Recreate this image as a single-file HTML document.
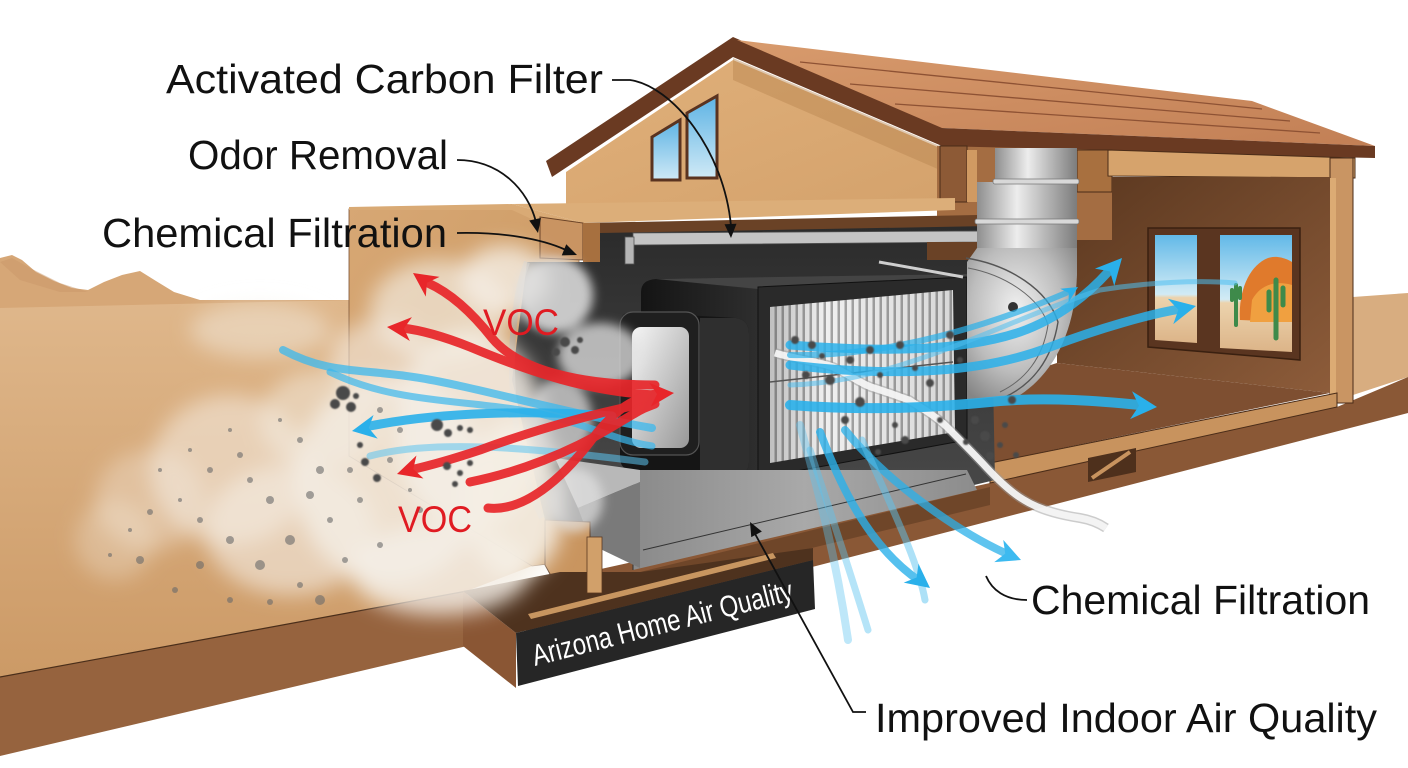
<!DOCTYPE html>
<html><head><meta charset="utf-8"><style>
html,body{margin:0;padding:0;background:#fff;overflow:hidden;}
svg{display:block;}
text{font-family:"Liberation Sans",sans-serif;}
</style></head><body>
<svg width="1408" height="768" viewBox="0 0 1408 768" xmlns="http://www.w3.org/2000/svg">
<defs>
<linearGradient id="ground" x1="0" y1="0" x2="0" y2="1"><stop offset="0" stop-color="#dfb78b"/><stop offset="1" stop-color="#cc9a66"/></linearGradient>
<linearGradient id="wallF" x1="0" y1="0" x2="1" y2="1"><stop offset="0" stop-color="#d7a774"/><stop offset="1" stop-color="#c9975f"/></linearGradient>
<linearGradient id="roof" x1="0" y1="0" x2="1" y2="1"><stop offset="0" stop-color="#d89b6d"/><stop offset="1" stop-color="#c27f55"/></linearGradient>
<linearGradient id="gable" x1="0" y1="0" x2="1" y2="1"><stop offset="0" stop-color="#e0b07a"/><stop offset="1" stop-color="#d4a26c"/></linearGradient>
<linearGradient id="roomwall" x1="0" y1="0" x2="1" y2="1"><stop offset="0" stop-color="#5a371f"/><stop offset="1" stop-color="#8d5c3a"/></linearGradient>
<linearGradient id="sky" x1="0" y1="0" x2="0" y2="1"><stop offset="0" stop-color="#62b9e8"/><stop offset="0.55" stop-color="#d2ebf5"/><stop offset="0.58" stop-color="#ecd3ad"/><stop offset="1" stop-color="#dcb488"/></linearGradient>
<linearGradient id="gsky" x1="0" y1="0" x2="0" y2="1"><stop offset="0" stop-color="#5db3e4"/><stop offset="1" stop-color="#cfe9f6"/></linearGradient>
<linearGradient id="pipeV" x1="0" y1="0" x2="1" y2="0"><stop offset="0" stop-color="#8e8e8e"/><stop offset="0.4" stop-color="#ededed"/><stop offset="0.65" stop-color="#bdbdbd"/><stop offset="1" stop-color="#7c7c7c"/></linearGradient>
<radialGradient id="elbow" cx="0.45" cy="0.4" r="0.7"><stop offset="0" stop-color="#f0f0f0"/><stop offset="0.6" stop-color="#bcbcbc"/><stop offset="1" stop-color="#858585"/></radialGradient>
<linearGradient id="cavity" x1="0" y1="0" x2="0" y2="1"><stop offset="0" stop-color="#2b2b2b"/><stop offset="1" stop-color="#505050"/></linearGradient>
<linearGradient id="hside" x1="0" y1="0" x2="1" y2="0"><stop offset="0" stop-color="#141414"/><stop offset="0.55" stop-color="#3c3c3c"/><stop offset="1" stop-color="#161616"/></linearGradient>
<linearGradient id="collarIn" x1="0" y1="0" x2="1" y2="1"><stop offset="0" stop-color="#f6f6f6"/><stop offset="1" stop-color="#989898"/></linearGradient>
<linearGradient id="base" x1="0" y1="0" x2="1" y2="0"><stop offset="0" stop-color="#8a8a8a"/><stop offset="0.5" stop-color="#a9a9a9"/><stop offset="1" stop-color="#8c8c8c"/></linearGradient>
<linearGradient id="fshade" x1="0" y1="0" x2="1" y2="0"><stop offset="0" stop-color="#000" stop-opacity=".2"/><stop offset=".3" stop-color="#000" stop-opacity="0"/><stop offset="1" stop-color="#000" stop-opacity=".1"/></linearGradient>
<pattern id="pleat" width="7" height="10" patternUnits="userSpaceOnUse"><rect width="7" height="10" fill="#efefef"/><rect x="4.5" width="2.5" height="10" fill="#a2a2a2"/></pattern>
<filter id="b10" x="-50%" y="-50%" width="200%" height="200%"><feGaussianBlur stdDeviation="10"/></filter>
<filter id="b5" x="-50%" y="-50%" width="200%" height="200%"><feGaussianBlur stdDeviation="5"/></filter>
<filter id="b1"><feGaussianBlur stdDeviation="0.8"/></filter>
</defs>

<!-- desert -->
<path d="M0,258 L12,255 L22,260 L36,272 L54,281 L72,288 L88,290 L104,282 L122,275 L140,271 L156,281 L174,292 L200,300 L352,300 L352,340 L0,340Z" fill="#d6a777"/>
<path d="M0,262 L12,258 L30,268 L60,283 L88,292 L60,292 L20,280Z" fill="#c9976a" opacity=".5"/>
<path d="M0,308 L352,300 L352,456 L532,566 L467,591 L0,677Z" fill="url(#ground)"/>
<!-- left slab front -->
<path d="M0,677 L467,591 L467,646 L0,756Z" fill="#96633e"/>
<path d="M0,677 L467,591" stroke="#4a2e1a" stroke-width="1.2"/>

<!-- right ground beyond house -->
<path d="M1353,297 L1408,293 L1408,377 L1353,395Z" fill="#d8ad80"/>
<!-- right slab brown -->
<path d="M560,578 L990,483 L1337,407 L1408,377 L1408,413 L816,566 L520,640Z" fill="#8a5836"/>
<path d="M640,572 L990,487 L990,505 L700,575Z" fill="#5e3a22" opacity=".6"/>

<!-- gable wall -->
<path d="M566,172 L733,60 L940,148 L940,200 L566,206Z" fill="url(#gable)"/>
<path d="M733,58 L940,146 L940,170 L733,80Z" fill="#b9844f" opacity=".45"/>
<!-- gable windows -->
<path d="M652,137 L680,120 L680,180 L652,180Z" fill="url(#gsky)" stroke="#5a3320" stroke-width="3"/>
<path d="M687,113 L717,96 L717,178 L687,178Z" fill="url(#gsky)" stroke="#5a3320" stroke-width="3"/>
<!-- barge -->
<path d="M546,161 L733,37 L942,127 L942,146 L733,57 L552,177Z" fill="#6a3a22"/>
<!-- roof -->
<path d="M737,40 L1252,101 L1375,146 L942,128Z" fill="url(#roof)"/>
<path d="M800,62 L1262,109 M850,84 L1290,121 M895,104 L1320,133" stroke="#8e5234" stroke-width="1.3" fill="none"/>
<path d="M942,128 L1375,146 L1375,158 L942,148Z" fill="#6a3a22"/>

<!-- under-roof structure -->
<path d="M937,146 L1112,150 L1112,250 L937,250Z" fill="#a46d42"/>
<rect x="940" y="146" width="27" height="56" fill="#8d5a36" stroke="#4a2c18" stroke-width="1"/>
<rect x="967" y="150" width="10" height="52" fill="#d09a62"/>
<rect x="1077" y="150" width="35" height="42" fill="#a8703f" stroke="#4a2c18" stroke-width="1"/>
<!-- room ceiling band -->
<path d="M1108,150 L1355,158 L1355,178 L1108,176Z" fill="#d6a36c" stroke="#4a2c18" stroke-width="1"/>
<!-- right outer wall -->
<rect x="1330" y="158" width="23" height="245" fill="#c99563" stroke="#4a2c18" stroke-width="1"/>
<rect x="1330" y="178" width="6" height="220" fill="#dcab74"/>
<!-- room back wall -->
<path d="M1112,177 L1330,177 L1330,393 L1057,363 L1057,240 L1112,240Z" fill="url(#roomwall)"/>
<!-- floor -->
<path d="M965,392 L1057,363 L1330,393 L990,463 L965,470Z" fill="#7e4f31"/>
<path d="M990,463 L1337,393 L1337,407 L990,483Z" fill="#c8935e" stroke="#4a2c18" stroke-width="1"/>
<path d="M1088,458 L1136,448 L1136,472 L1088,482Z" fill="#4e301c"/>
<path d="M1092,478 L1130,452" stroke="#c8935e" stroke-width="4"/>
<!-- window -->
<path d="M1148,228 L1300,228 L1300,360 L1148,347Z" fill="#5a3520" stroke="#3a2010" stroke-width="1.5"/>
<path d="M1155,235 L1197,235 L1197,343 L1155,340Z" fill="url(#sky)"/>
<path d="M1220,235 L1292,235 L1292,352 L1220,348Z" fill="url(#sky)"/>
<path d="M1240,320 C1238,290 1250,265 1268,258 C1280,254 1292,262 1292,262 L1292,322Z" fill="#e07a2c"/>
<path d="M1252,300 C1260,285 1275,280 1292,285 L1292,322 L1250,322Z" fill="#f0a040"/>
<path d="M1236,325 L1236,285 M1232,300 L1232,290 M1240,298 L1240,288" stroke="#3e8a4a" stroke-width="4" stroke-linecap="round"/>
<path d="M1276,338 L1276,280 M1269,310 L1269,292 M1283,305 L1283,288" stroke="#3e8a4a" stroke-width="5" stroke-linecap="round"/>

<!-- left wall face -->
<path d="M349,209 L512,206 L579,223 L579,560 L532,566 L349,456Z" fill="url(#wallF)" stroke="#7a5233" stroke-width="0.8"/>
<!-- ceiling slab -->
<path d="M512,204 L955,198 L955,210 L583,223Z" fill="#dcae79"/>
<path d="M349,207 L512,204 L583,223 L540,223 L512,210 L349,210Z" fill="#d9aa75"/>
<path d="M583,223 L977,215 L977,233 L600,233Z" fill="#6a4226"/>
<path d="M540,217 L583,223 L583,260 L540,258Z" fill="#c99462" stroke="#6a4226" stroke-width="1"/>
<path d="M583,223 L600,223 L600,262 L583,262Z" fill="#a7703f"/>

<!-- cavity -->
<path d="M527,262 L600,262 L600,233 L990,226 L995,480 L640,565 L545,520 L512,380Z" fill="url(#cavity)"/>
<path d="M527,262 C505,320 505,440 542,518" stroke="#9a9a9a" stroke-width="6" fill="none" opacity=".6"/>
<!-- top plate -->
<path d="M633,233 L978,231 L978,242 L633,245Z" fill="#c4c4c4" stroke="#555" stroke-width=".8"/>
<rect x="625" y="237" width="9" height="27" fill="#b5b5b5" stroke="#555" stroke-width=".8"/>
<rect x="927" y="242" width="50" height="18" fill="#6a4226"/>
<!-- housing -->
<path d="M641,292 Q641,280 656,279 L967,274 L967,440 L758,478 L641,477Z" fill="url(#hside)"/>
<path d="M656,279 L967,274 L967,280 L758,289Z" fill="#444"/>
<path d="M758,287 L967,277 L967,440 L758,478Z" fill="#2a2a2a" stroke="#111" stroke-width="1"/>
<path d="M770,307 L953,290 L955,432 L770,463Z" fill="url(#pleat)"/>
<path d="M770,307 L953,290 L955,432 L770,463Z" fill="url(#fshade)"/>
<path d="M770,382 L953,362" stroke="#555" stroke-width="1.5"/>
<path d="M879,262 L963,277" stroke="#cfcfcf" stroke-width="3"/>
<!-- collar -->
<path d="M632,312 L736,318 Q749,320 749,334 L749,462 Q749,474 736,474 L632,470 Q620,470 620,457 L620,325 Q620,312 632,312Z" fill="#151515"/>
<path d="M700,318 L736,318 Q749,320 749,334 L749,462 Q749,474 736,474 L700,470Z" fill="#2f2f2f"/>
<rect x="620" y="312" width="79" height="143" rx="13" fill="#1f1f1f" stroke="#555" stroke-width="1.2"/>
<rect x="632" y="327" width="57" height="121" rx="9" fill="url(#collarIn)"/>
<!-- base -->
<path d="M633,470 L967,470 L977,490 L633,570Z" fill="url(#base)"/>
<path d="M643,550 L966,474" stroke="#333" stroke-width="1"/>
<path d="M633,470 L633,570" stroke="#333" stroke-width="1"/>
<!-- chute -->
<path d="M555,458 L640,470 L640,482 L578,508Z" fill="#b8b8b8"/>
<path d="M578,508 L640,482 L640,568 L592,545Z" fill="#7a7a7a"/>
<!-- bottom wall profile -->
<path d="M545,520 L590,522 L590,588 L560,592 L545,565Z" fill="#c9955f" stroke="#5a3820" stroke-width="1"/>
<!-- duct -->
<rect x="995" y="148" width="82" height="100" fill="url(#pipeV)"/>
<rect x="977" y="182" width="100" height="68" fill="url(#pipeV)"/>
<rect x="993" y="179" width="86" height="5" rx="2" fill="#d8d8d8" stroke="#777" stroke-width=".8"/>
<rect x="975" y="219" width="104" height="5" rx="2" fill="#d8d8d8" stroke="#777" stroke-width=".8"/>
<path d="M977,248 L1077,248 L1077,275 C1075,330 1055,372 1020,395 L967,400 L967,262 Z" fill="url(#elbow)"/>
<path d="M966,258 C1010,265 1048,290 1058,322 C1052,360 1032,385 1003,398" stroke="#555" stroke-width="1.4" fill="none"/>
<path d="M968,268 C1006,275 1040,298 1048,325 C1043,358 1025,380 1000,392" stroke="#666" stroke-width="1" fill="none"/>
<circle cx="1013" cy="307" r="5" fill="#333"/>

<!-- white ribbon -->
<path d="M775,353 C800,360 820,362 833,367 C850,375 860,383 871,387 C890,393 900,397 909,400 C925,410 938,418 947,427 C962,442 975,455 986,467 C1000,482 1012,493 1024,500 C1040,510 1060,515 1080,518 C1092,520 1100,524 1106,528" stroke="#9a9a9a" stroke-width="10" fill="none" opacity=".5"/>
<path d="M775,353 C800,360 820,362 833,367 C850,375 860,383 871,387 C890,393 900,397 909,400 C925,410 938,418 947,427 C962,442 975,455 986,467 C1000,482 1012,493 1024,500 C1040,510 1060,515 1080,518 C1092,520 1100,524 1106,528" stroke="#f4f4f4" stroke-width="7" fill="none" opacity=".95"/>

<!-- recess & label -->
<path d="M463,591 L516,633 L516,688 L463,646Z" fill="#8a5634"/>
<path d="M463,591 L560,572 L641,572 L813,548 L813,560 L516,633Z" fill="#4e321e"/>
<path d="M528,614 L773,553 L776,558 L531,619Z" fill="#c89660"/>
<rect x="587" y="537" width="15" height="56" fill="#d1a06a" stroke="#5a3820" stroke-width=".8"/>
<path d="M516,633 L813,560 L815,609 L518,686Z" fill="#262626"/>
<text transform="translate(535,666) rotate(-14.3)" font-size="30" fill="#fff" textLength="268" lengthAdjust="spacingAndGlyphs">Arizona Home Air Quality</text>

<!-- clouds -->
<g filter="url(#b10)" fill="#f5efe6">
<ellipse cx="150" cy="500" rx="55" ry="50" opacity=".35"/>
<ellipse cx="230" cy="470" rx="80" ry="75" opacity=".55"/>
<ellipse cx="290" cy="530" rx="85" ry="65" opacity=".6"/>
<ellipse cx="320" cy="420" rx="60" ry="50" opacity=".5"/>
<ellipse cx="390" cy="480" rx="95" ry="105" opacity=".8"/>
<ellipse cx="440" cy="570" rx="90" ry="45" opacity=".85"/>
<ellipse cx="470" cy="430" rx="75" ry="100" opacity=".85"/>
<ellipse cx="440" cy="310" rx="70" ry="50" opacity=".65"/>
<ellipse cx="505" cy="280" rx="45" ry="35" opacity=".8"/>
<ellipse cx="515" cy="500" rx="50" ry="80" opacity=".9"/>
<ellipse cx="260" cy="330" rx="70" ry="28" opacity=".45"/>
<ellipse cx="115" cy="540" rx="40" ry="40" opacity=".3"/>
<ellipse cx="380" cy="360" rx="50" ry="40" opacity=".6"/>
</g>
<g filter="url(#b5)" fill="#e2e2e2">
<ellipse cx="555" cy="295" rx="38" ry="38" opacity=".85"/>
<ellipse cx="600" cy="355" rx="42" ry="32" opacity=".75"/>
<ellipse cx="560" cy="420" rx="32" ry="42" opacity=".7"/>
<ellipse cx="575" cy="500" rx="28" ry="32" opacity=".7"/>
</g>

<!-- left blue flows -->
<g fill="none" stroke-linecap="round">
<path d="M283,350 C330,375 360,368 420,378 S560,412 652,428" stroke="#3bb8ee" stroke-width="8" opacity=".75"/>
<path d="M330,372 C390,402 460,400 520,410 S612,440 652,446" stroke="#3bb8ee" stroke-width="7" opacity=".7"/>
<path d="M370,456 C430,440 520,446 645,462" stroke="#5cc4f0" stroke-width="7" opacity=".55"/>
<path d="M612,416 C530,410 440,412 370,426" stroke="#2ab0ea" stroke-width="9" opacity=".9"/>
</g>
<polygon points="0,0 -24,-12 -17,0 -24,12" transform="translate(352,431) rotate(170)" fill="#2ab0ea"/>
<!-- red flows -->
<g fill="none" stroke="#e8262a" stroke-linecap="round" stroke-width="9" opacity=".92">
<path d="M655,385 C585,385 520,372 492,338 C470,310 448,292 428,283"/>
<path d="M655,395 C590,392 530,372 470,347 C440,335 420,330 402,328"/>
<path d="M652,402 C600,412 540,428 480,450 C450,460 428,466 410,470"/>
<path d="M488,508 C525,512 562,478 590,442 C612,412 632,398 656,394"/>
<path d="M470,482 C520,472 570,452 610,428 S640,410 655,404"/>
</g>
<polygon points="0,0 -24,-12 -17,0 -24,12" transform="translate(413,273) rotate(-145)" fill="#e8262a"/>
<polygon points="0,0 -24,-12 -17,0 -24,12" transform="translate(387,327) rotate(-175)" fill="#e8262a"/>
<polygon points="0,0 -24,-12 -17,0 -24,12" transform="translate(397,474) rotate(163)" fill="#e8262a"/>
<polygon points="0,0 -24,-12 -17,0 -24,12" transform="translate(674,393) rotate(-4)" fill="#e8262a"/>

<!-- right blue flows -->
<g fill="none" stroke-linecap="round">
<path d="M790,345 C880,352 960,352 1020,332 C1060,318 1090,292 1108,272" stroke="#2ab0ea" stroke-width="9" opacity=".85"/>
<path d="M790,365 C900,378 985,372 1050,347 C1100,328 1150,314 1180,309" stroke="#2ab0ea" stroke-width="9" opacity=".85"/>
<path d="M790,405 C880,412 950,406 1000,401 C1050,397 1100,401 1140,405" stroke="#2ab0ea" stroke-width="10" opacity=".9"/>
<path d="M790,385 C900,382 1000,322 1100,290 C1150,282 1200,280 1235,283" stroke="#4fc0f0" stroke-width="5" opacity=".55"/>
<path d="M790,355 C890,357 990,325 1066,293" stroke="#2ab0ea" stroke-width="6" opacity=".7"/>
<!-- down -->
<path d="M800,425 C815,480 835,550 848,640" stroke="#5cc4f0" stroke-width="8" opacity=".4"/>
<path d="M820,432 C840,485 868,545 918,580" stroke="#2ab0ea" stroke-width="8" opacity=".8"/>
<path d="M845,430 C885,480 955,530 1005,553" stroke="#2ab0ea" stroke-width="8" opacity=".75"/>
<path d="M810,450 C828,505 848,565 868,630" stroke="#5cc4f0" stroke-width="7" opacity=".45"/>
<path d="M862,440 C888,500 918,560 925,600" stroke="#5cc4f0" stroke-width="7" opacity=".5"/>
</g>
<polygon points="0,0 -26,-13 -18,0 -26,13" transform="translate(1122,258) rotate(-48)" fill="#2ab0ea"/>
<polygon points="0,0 -26,-13 -18,0 -26,13" transform="translate(1196,306) rotate(-12)" fill="#2ab0ea"/>
<polygon points="0,0 -26,-14 -18,0 -26,14" transform="translate(1157,407) rotate(4)" fill="#2ab0ea"/>
<polygon points="0,0 -16,-8 -11,0 -16,8" transform="translate(1078,287) rotate(-32)" fill="#2ab0ea"/>
<polygon points="0,0 -24,-12 -17,0 -24,12" transform="translate(930,588) rotate(38)" fill="#2ab0ea"/>
<polygon points="0,0 -24,-12 -17,0 -24,12" transform="translate(1021,560) rotate(22)" fill="#3cbaf0"/>

<!-- particles -->
<g fill="#4a4a4a" filter="url(#b1)">
<circle cx="343" cy="393" r="7"/><circle cx="335" cy="404" r="5"/><circle cx="351" cy="407" r="5"/><circle cx="356" cy="396" r="3"/>
<circle cx="437" cy="425" r="6"/><circle cx="448" cy="433" r="4"/><circle cx="460" cy="428" r="3"/><circle cx="470" cy="430" r="3"/>
<circle cx="447" cy="466" r="4"/><circle cx="460" cy="473" r="3"/><circle cx="455" cy="484" r="3"/><circle cx="470" cy="463" r="3"/>
<circle cx="360" cy="445" r="3"/><circle cx="365" cy="462" r="4"/><circle cx="377" cy="478" r="4"/>
<circle cx="565" cy="342" r="5"/><circle cx="575" cy="350" r="4"/><circle cx="556" cy="352" r="4"/><circle cx="580" cy="340" r="3"/>
<circle cx="795" cy="340" r="4"/><circle cx="812" cy="345" r="4"/><circle cx="822" cy="356" r="3"/><circle cx="806" cy="375" r="4"/>
<circle cx="830" cy="380" r="5"/><circle cx="850" cy="360" r="4"/><circle cx="870" cy="350" r="4"/><circle cx="880" cy="375" r="3"/>
<circle cx="900" cy="345" r="4"/><circle cx="915" cy="368" r="3"/><circle cx="930" cy="383" r="4"/><circle cx="860" cy="402" r="5"/>
<circle cx="845" cy="420" r="4"/><circle cx="895" cy="425" r="3"/><circle cx="940" cy="420" r="3"/><circle cx="905" cy="440" r="4"/>
<circle cx="950" cy="335" r="4"/><circle cx="960" cy="360" r="3"/><circle cx="878" cy="452" r="3"/>
<circle cx="975" cy="420" r="4"/><circle cx="985" cy="436" r="5"/><circle cx="1000" cy="445" r="3"/><circle cx="990" cy="456" r="4"/>
<circle cx="1005" cy="425" r="3"/><circle cx="1016" cy="455" r="3"/><circle cx="966" cy="442" r="3"/><circle cx="1012" cy="400" r="4"/>
</g>
<g fill="#6a6a6a" opacity=".6">
<circle cx="300" cy="440" r="3"/><circle cx="320" cy="470" r="4"/><circle cx="250" cy="480" r="3"/><circle cx="270" cy="500" r="4"/>
<circle cx="200" cy="520" r="3"/><circle cx="230" cy="540" r="4"/><circle cx="180" cy="500" r="2"/><circle cx="150" cy="512" r="3"/>
<circle cx="130" cy="530" r="2"/><circle cx="330" cy="520" r="3"/><circle cx="360" cy="500" r="3"/><circle cx="390" cy="460" r="3"/>
<circle cx="420" cy="510" r="3"/><circle cx="280" cy="420" r="2"/><circle cx="230" cy="430" r="2"/><circle cx="260" cy="565" r="5"/>
<circle cx="300" cy="585" r="3"/><circle cx="270" cy="602" r="3"/><circle cx="210" cy="470" r="3"/><circle cx="380" cy="545" r="3"/>
<circle cx="350" cy="470" r="3"/><circle cx="240" cy="455" r="3"/><circle cx="190" cy="450" r="2"/><circle cx="160" cy="470" r="2"/>
<circle cx="410" cy="490" r="2"/><circle cx="290" cy="540" r="5"/><circle cx="200" cy="565" r="4"/><circle cx="320" cy="600" r="5"/>
<circle cx="110" cy="555" r="2"/><circle cx="140" cy="560" r="4"/><circle cx="175" cy="590" r="3"/><circle cx="230" cy="600" r="3"/>
<circle cx="400" cy="430" r="3"/><circle cx="380" cy="410" r="3"/><circle cx="310" cy="495" r="4"/><circle cx="345" cy="560" r="3"/>
</g>

<!-- red VOC labels -->
<text x="483" y="335" font-size="37" fill="#e01b22" textLength="76" lengthAdjust="spacingAndGlyphs">VOC</text>
<text x="398" y="532" font-size="37" fill="#e01b22" textLength="74" lengthAdjust="spacingAndGlyphs">VOC</text>

<!-- leaders -->
<g fill="none" stroke="#111" stroke-width="1.8">
<path d="M612,80 L630,80 C672,86 724,150 731,226"/>
<path d="M457,160 C500,160 528,190 536,222"/>
<path d="M457,233 C500,232 540,238 566,250"/>
<path d="M1027,600 C1005,600 992,590 986,576"/>
<path d="M866,712 L853,712 L754,532"/>
</g>
<polygon points="0,0 -14,-6 -14,6" transform="translate(731,238) rotate(88)" fill="#111"/>
<polygon points="0,0 -14,-6 -14,6" transform="translate(538,233) rotate(78)" fill="#111"/>
<polygon points="0,0 -14,-6 -14,6" transform="translate(577,255) rotate(22)" fill="#111"/>
<polygon points="0,0 -14,-6 -14,6" transform="translate(750,522) rotate(-118)" fill="#111"/>

<!-- labels -->
<g fill="#111" font-size="41">
<text x="166" y="93" textLength="437" lengthAdjust="spacingAndGlyphs">Activated Carbon Filter</text>
<text x="188" y="169" textLength="260" lengthAdjust="spacingAndGlyphs">Odor Removal</text>
<text x="102" y="247" textLength="345" lengthAdjust="spacingAndGlyphs">Chemical Filtration</text>
<text x="1031" y="614" textLength="339" lengthAdjust="spacingAndGlyphs">Chemical Filtration</text>
<text x="875" y="732" textLength="502" lengthAdjust="spacingAndGlyphs">Improved Indoor Air Quality</text>
</g>
</svg>
</body></html>
